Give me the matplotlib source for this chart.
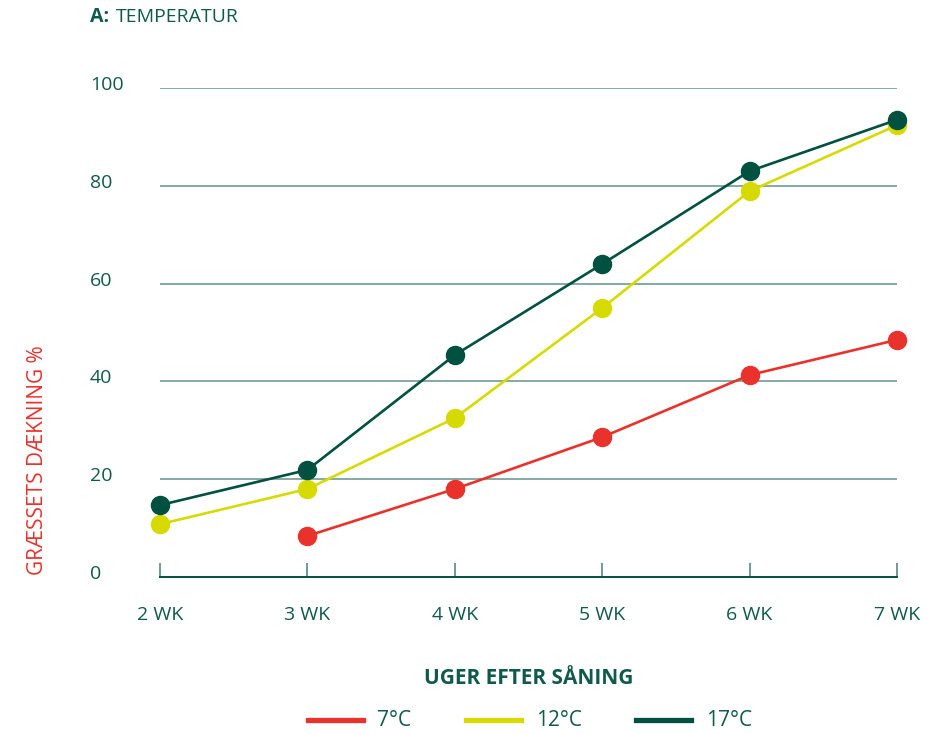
import matplotlib
matplotlib.use("Agg")
import matplotlib.pyplot as plt
from matplotlib.lines import Line2D
import matplotlib.transforms as mtransforms

weeks = [2, 3, 4, 5, 6, 7]
week_labels = ["2 WK", "3 WK", "4 WK", "5 WK", "6 WK", "7 WK"]
series_names = ["7°C", "12°C", "17°C"]
t7_x = [3, 4, 5, 6, 7]
t7 = [8.4, 18.0, 28.6, 41.3, 48.5]
t12 = [10.8, 18.0, 32.5, 55.0, 78.9, 92.4]
t17 = [14.7, 21.9, 45.4, 64.0, 83.0, 93.5]
yticks = [0, 20, 40, 60, 80, 100]

RED = "#E8322B"
YEL = "#D7DA00"
GRN = "#00513F"
GRID = "#6F9B93"
TXT = "#0F5A4A"

plt.rcParams['font.family'] = ['Open Sans', 'DejaVu Sans']

W, H = 948, 734
fig = plt.figure(figsize=(W/100, H/100), dpi=100)
ax = fig.add_axes([160/W, (H-577)/H, (897-160)/W, (577-88)/H])
ax.set_xlim(2, 7)
ax.set_ylim(0, 100)

for y in yticks[1:]:
    ax.axhline(y, color=GRID, lw=1.2, zorder=1)

for s in ["top", "right", "left"]:
    ax.spines[s].set_visible(False)
ax.spines["bottom"].set_color(GRN)
ax.spines["bottom"].set_linewidth(1.4)

ax.set_xticks(weeks)
ax.set_xticklabels(week_labels)
ax.tick_params(axis="x", direction="in", length=10, width=1.4, color=GRID,
               labelsize=14, labelcolor=TXT, pad=21)
ax.set_yticks([])

trans = mtransforms.blended_transform_factory(fig.transFigure, ax.transData)
label_offset = mtransforms.ScaledTranslation(0, 5/100, fig.dpi_scale_trans)
for y in yticks:
    ax.text(90/W, y, str(y), transform=trans + label_offset, ha="left",
            va="center_baseline", fontsize=14, color=TXT)

ms = 13
lw = 1.9
ax.plot(t7_x, t7, color=RED, lw=lw, marker="o", ms=ms, clip_on=False, zorder=3)
ax.plot(weeks, t12, color=YEL, lw=lw, marker="o", ms=ms, clip_on=False, zorder=4)
ax.plot(weeks, t17, color=GRN, lw=lw, marker="o", ms=ms, clip_on=False, zorder=5)

fig.text(90/W, 1-17/H, "A:", fontsize=14, color=TXT, fontweight="bold",
         ha="left", va="center")
fig.text(116/W, 1-17/H, "TEMPERATUR", fontsize=14, color=TXT,
         ha="left", va="center")

fig.text(38/W, 1-460/H, "GRÆSSETS DÆKNING %", fontsize=15, color=RED,
         rotation=90, ha="center", va="center", fontweight="medium")

fig.text(529/W, 1-678/H, "UGER EFTER SÅNING", fontsize=15, color=TXT,
         fontweight="bold", ha="center", va="center")

legend_items = [(308, 377, RED, "7°C"), (466, 536, YEL, "12°C"), (636, 706, GRN, "17°C")]
for x0, xt, c, lab in legend_items:
    fig.add_artist(Line2D([x0/W, (x0+55)/W], [1-720/H, 1-720/H], color=c, lw=3.8,
                          transform=fig.transFigure))
    fig.text(xt/W, 1-721/H, lab, fontsize=15, color=TXT, ha="left", va="center")

fig.savefig("out.png", dpi=100, facecolor="white")
